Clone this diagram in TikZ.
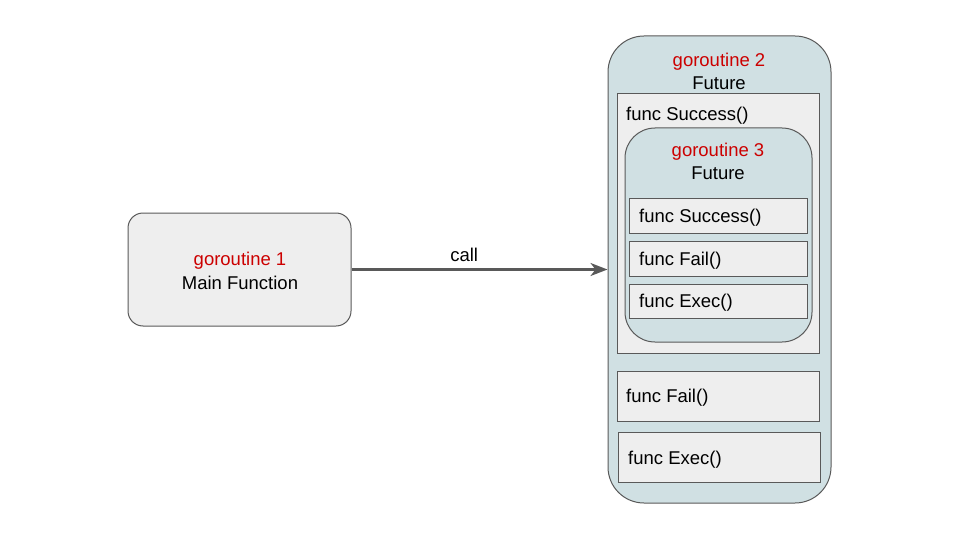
\documentclass[tikz,border=0pt]{standalone}
\usepackage{fontspec}
\setmainfont{Liberation Sans}
\usetikzlibrary{arrows.meta}
\definecolor{boxgray}{HTML}{EEEEEE}
\definecolor{bluegray}{HTML}{D0E0E3}
\definecolor{edge}{HTML}{595959}
\definecolor{gored}{HTML}{CC0000}
\begin{document}
\begin{tikzpicture}[x=1pt,y=-1pt,
  every node/.style={font=\fontsize{18.5}{22}\selectfont, inner sep=0pt},
  gbox/.style={draw=edge, line width=1pt, fill=bluegray},
  fbox/.style={draw=edge, line width=0.8pt, fill=boxgray},
  redtxt/.style={text=gored, anchor=center},
  blktxt/.style={text=black, anchor=center},
  ftxt/.style={text=black, anchor=west},
  conn/.style={draw=edge, line width=2.5pt, -{Stealth[length=17pt,width=13pt,inset=5pt]}}]
\useasboundingbox (0,0) rectangle (960,540);
% main box
\node[fbox, rounded corners=15pt, line width=1pt, minimum width=223pt, minimum height=113pt] (main) at (239.5,269.5) {};
\node[redtxt] (g1) at (240,261) {goroutine 1};
\node[blktxt] (mf) at (240,283) {Main Function};
% goroutine 2
\node[gbox, rounded corners=36pt, minimum width=223pt, minimum height=467pt] (g2) at (719.5,269.5) {};
\node[redtxt] (g2t) at (719,61.5) {goroutine 2};
\node[blktxt] (g2f) at (719,83) {Future};
% success rect
\node[fbox, minimum width=202pt, minimum height=260pt] (succ) at (718,223) {};
\node[ftxt] (succt) at (626,116) {func Success()};
% goroutine 3
\node[gbox, rounded corners=30pt, minimum width=187pt, minimum height=214pt] (g3) at (718.5,235) {};
\node[redtxt] (g3t) at (718,152) {goroutine 3};
\node[blktxt] (g3f) at (718,173) {Future};
% inner funcs
\node[fbox, minimum width=178pt, minimum height=35pt] (is) at (718,215.5) {};
\node[ftxt] (ist) at (639,218) {func Success()};
\node[fbox, minimum width=178pt, minimum height=35pt] (if) at (718,258.5) {};
\node[ftxt] (ift) at (639,261) {func Fail()};
\node[fbox, minimum width=178pt, minimum height=34pt] (ie) at (718,301) {};
\node[ftxt] (iet) at (639,303) {func Exec()};
% outer fail/exec
\node[fbox, minimum width=202pt, minimum height=50pt] (of) at (718,396) {};
\node[ftxt] (oft) at (626,398) {func Fail()};
\node[fbox, minimum width=202pt, minimum height=50pt] (oe) at (719,457) {};
\node[ftxt] (oet) at (628,460) {func Exec()};
% arrow
\draw[conn] (main.east) -- node[pos=0.44, above=7pt, inner sep=0pt] (call) {call} (g2.west);
\end{tikzpicture}
\end{document}
